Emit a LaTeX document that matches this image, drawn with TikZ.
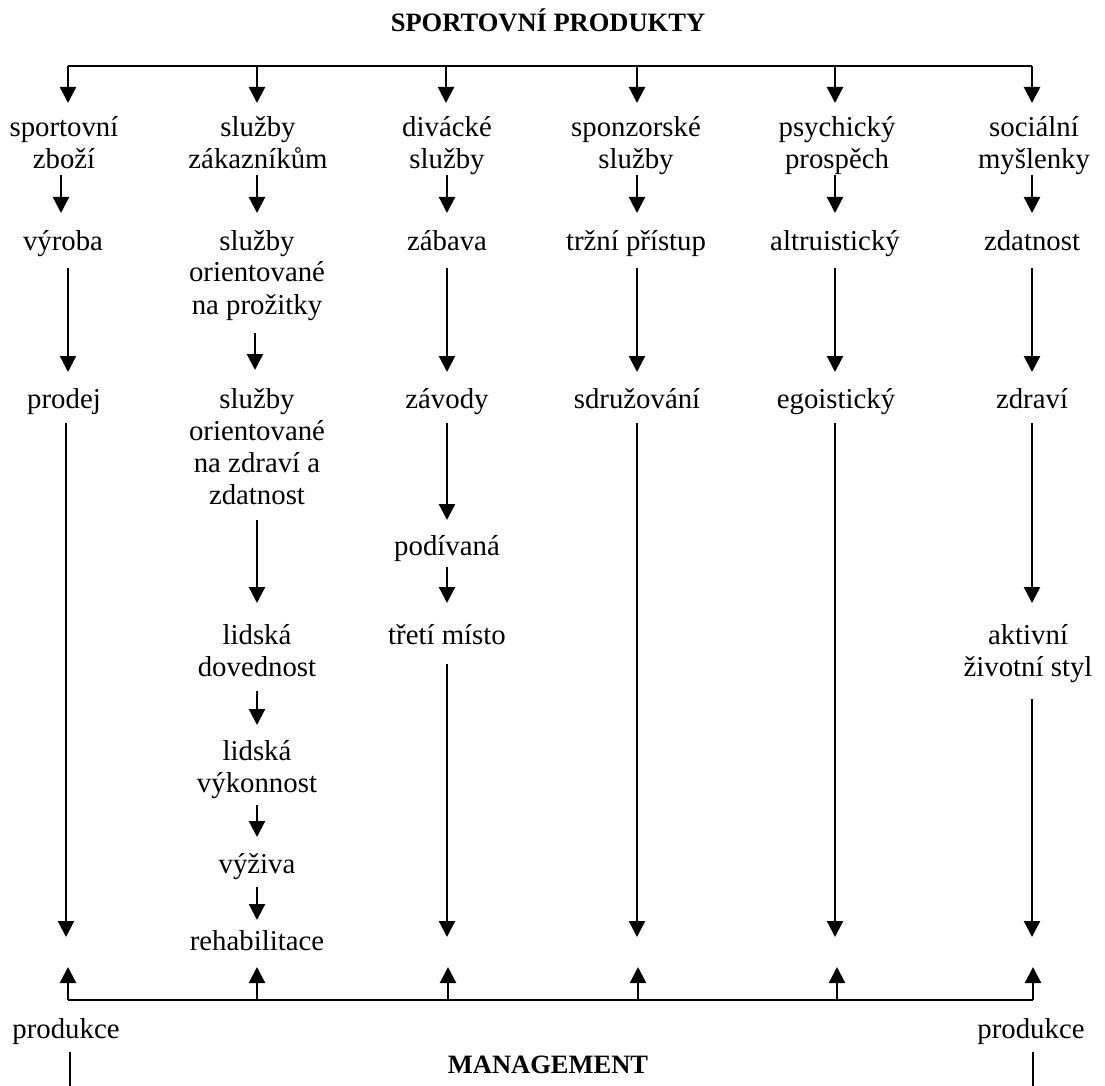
\documentclass[tikz,border=0pt]{standalone}
\usepackage{fontspec}
\setmainfont{Liberation Serif}
\usetikzlibrary{arrows.meta}
\newcommand\ml[1]{\begin{tabular}[t]{@{}c@{}}#1\end{tabular}}
\tikzset{
  lbl/.style={inner sep=0pt, anchor=base, font=\fontsize{28.8}{32}\selectfont},
  hdr/.style={inner sep=0pt, anchor=base, font=\fontsize{26.5}{30}\selectfont\bfseries},
  arr/.style={line width=2.3pt, -{Triangle[length=16pt,width=16pt]}},
  bus/.style={line width=2pt},
  thin/.style={line width=1.2pt}
}
\begin{document}
\begin{tikzpicture}[x=1pt,y=-1pt]
\useasboundingbox (0,0) rectangle (1105,1086);
% column guides (x positions of connectors)
\coordinate (k1a) at (61,0);
\coordinate (k1b) at (68,0);
\coordinate (k1c) at (66,0);
\coordinate (k2)  at (257,0);
\coordinate (k2b) at (255,0);
\coordinate (k3)  at (447,0);
\coordinate (k4)  at (637,0);
\coordinate (k5)  at (835,0);
\coordinate (k6)  at (1032,0);
% headers
\node[hdr] (title) at (548,32) {SPORTOVNÍ PRODUKTY};
\node[hdr] (mgmt) at (548,1073) {MANAGEMENT};
% top bus
\coordinate (t1) at (68,66);
\coordinate (t2) at (257,66);
\coordinate (t3) at (446,66);
\coordinate (t4) at (637,66);
\coordinate (t5) at (835,66);
\coordinate (t6) at (1032,66);
\draw[bus] (t1) -- (t6);
% row 1
\node[lbl] (a1) at (64,137) {\ml{sportovní\\zboží}};
\node[lbl] (a2) at (258,137) {\ml{služby\\zákazníkům}};
\node[lbl] (a3) at (447,137) {\ml{divácké\\služby}};
\node[lbl] (a4) at (636,137) {\ml{sponzorské\\služby}};
\node[lbl] (a5) at (837,137) {\ml{psychický\\prospěch}};
\node[lbl] (a6) at (1034,137) {\ml{sociální\\myšlenky}};
\foreach \i in {1,...,6}{
  \draw[arr] (t\i) -- ([yshift=34pt]t\i |- a\i.base);
}
% row 2
\node[lbl] (b1) at (63,250) {výroba};
\node[lbl] (b2) at (257,250) {\ml{služby\\orientované\\na prožitky}};
\node[lbl] (b3) at (447,250) {zábava};
\node[lbl] (b4) at (636,250) {tržní přístup};
\node[lbl] (b5) at (835,250) {altruistický};
\node[lbl] (b6) at (1032,250) {zdatnost};
\draw[arr] ([yshift=-38pt]a1.base -| k1a) -- ([yshift=37pt]b1.base -| k1a);
\draw[arr] ([yshift=-38pt]a2.base -| k2) -- ([yshift=37pt]b2.base -| k2);
\draw[arr] ([yshift=-38pt]a3.base -| k3) -- ([yshift=37pt]b3.base -| k3);
\draw[arr] ([yshift=-38pt]a4.base -| k4) -- ([yshift=37pt]b4.base -| k4);
\draw[arr] ([yshift=-38pt]a5.base -| k5) -- ([yshift=37pt]b5.base -| k5);
\draw[arr] ([yshift=-38pt]a6.base -| k6) -- ([yshift=37pt]b6.base -| k6);
% row 3
\node[lbl] (c1) at (64,408) {prodej};
\node[lbl] (c2) at (257,408) {\ml{služby\\orientované\\na zdraví a\\zdatnost}};
\node[lbl] (c3) at (447,408) {závody};
\node[lbl] (c4) at (637,408) {sdružování};
\node[lbl] (c5) at (836,408) {egoistický};
\node[lbl] (c6) at (1032,408) {zdraví};
\draw[arr] ([yshift=-18pt]b1.base -| k1b) -- ([yshift=36pt]c1.base -| k1b);
\draw[arr] ([yshift=-83pt]b2.base -| k2b) -- ([yshift=38pt]c2.base -| k2b);
\draw[arr] ([yshift=-18pt]b3.base -| k3) -- ([yshift=36pt]c3.base -| k3);
\draw[arr] ([yshift=-18pt]b4.base -| k4) -- ([yshift=36pt]c4.base -| k4);
\draw[arr] ([yshift=-18pt]b5.base -| k5) -- ([yshift=36pt]c5.base -| k5);
\draw[arr] ([yshift=-18pt]b6.base -| k6) -- ([yshift=36pt]c6.base -| k6);
% column 2 continuation
\node[lbl] (d2) at (257,644) {\ml{lidská\\dovednost}};
\node[lbl] (e2) at (257,760) {\ml{lidská\\výkonnost}};
\node[lbl] (f2) at (257,873) {výživa};
\node[lbl] (g2) at (257,950) {rehabilitace};
\draw[arr] ([yshift=-112pt]c2.base -| k2) -- ([yshift=41pt]d2.base -| k2);
\draw[arr] ([yshift=-47pt]d2.base -| k2) -- ([yshift=35pt]e2.base -| k2);
\draw[arr] ([yshift=-45pt]e2.base -| k2) -- ([yshift=36pt]f2.base -| k2);
\draw[arr] ([yshift=-14pt]f2.base -| k2) -- ([yshift=30pt]g2.base -| k2);
% column 3 continuation
\node[lbl] (d3) at (447,555) {podívaná};
\node[lbl] (e3) at (447,644) {třetí místo};
\draw[arr] ([yshift=-15pt]c3.base -| k3) -- ([yshift=35pt]d3.base -| k3);
\draw[arr] ([yshift=-12pt]d3.base -| k3) -- ([yshift=41pt]e3.base -| k3);
% column 6 continuation
\node[lbl] (d6) at (1028,644) {\ml{aktivní\\životní styl}};
\draw[arr] ([yshift=-15pt]c6.base -| k6) -- ([yshift=41pt]d6.base -| k6);
% free ends of long arrows
\coordinate (z1) at (66,937);
\coordinate (z3) at (447,937);
\coordinate (z4) at (637,937);
\coordinate (z5) at (835,937);
\coordinate (z6) at (1032,937);
\draw[arr] ([yshift=-15pt]c1.base -| z1) -- (z1);
\draw[arr] ([yshift=-20pt]e3.base -| z3) -- (z3);
\draw[arr] ([yshift=-15pt]c4.base -| z4) -- (z4);
\draw[arr] ([yshift=-15pt]c5.base -| z5) -- (z5);
\draw[arr] ([yshift=-55pt]d6.base -| z6) -- (z6);
% bottom bus
\coordinate (m1) at (68,1000);
\coordinate (m2) at (257,1000);
\coordinate (m3) at (448,1000);
\coordinate (m4) at (638,1000);
\coordinate (m5) at (837,1000);
\coordinate (m6) at (1033,1000);
\draw[bus] (m1) -- (m6);
\foreach \i in {1,...,6}{
  \coordinate (u\i) at ([yshift=33pt]m\i);
  \draw[arr] (m\i) -- (u\i);
}
% produkce
\node[lbl] (p1) at (66,1038) {produkce};
\node[lbl] (p2) at (1031,1038) {produkce};
\coordinate (q1) at (70,1086);
\coordinate (q2) at (1033,1086);
\draw[thin] ([yshift=-14pt]q1 |- p1.base) -- (q1);
\draw[thin] ([yshift=-14pt]q2 |- p2.base) -- (q2);
\end{tikzpicture}
\end{document}
